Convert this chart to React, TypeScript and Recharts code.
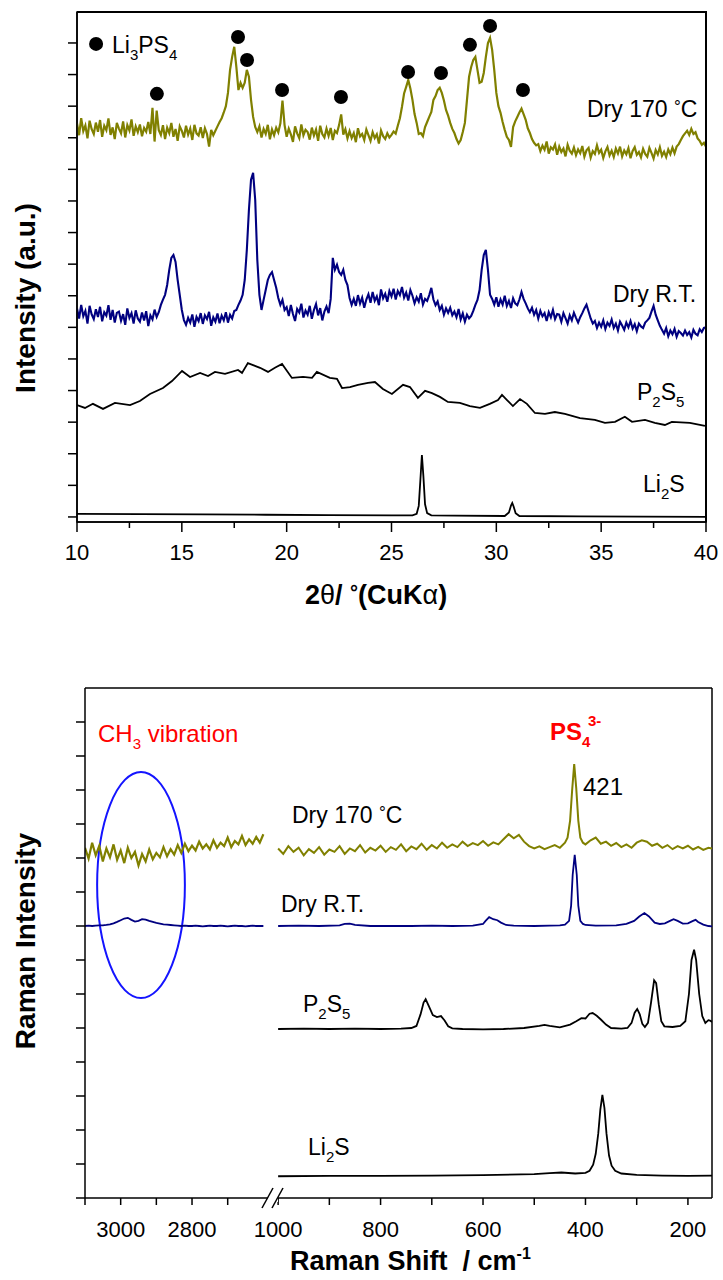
import React from "react";
import {
  ComposedChart,
  Line,
  XAxis,
  YAxis,
  ReferenceLine,
  ReferenceDot,
  ReferenceArea,
} from "recharts";

const FONT = '"Liberation Sans", Arial, Helvetica, sans-serif';
const OLIVE = "#808000";
const NAVY = "#000080";
const INK = "#000";

// ---------- XRD, 2θ step scans 10.0–40.0° (0.1° step) ----------
const xrdStart = 10;
const xrdStep = 0.1;

const dry170Xrd = [
  1245, 1208, 1262, 1221, 1239, 1198, 1254, 1227, 1212, 1248,
  1219, 1256, 1203, 1238, 1224, 1261, 1209, 1233, 1196, 1247,
  1229, 1214, 1252, 1201, 1240, 1223, 1258, 1206, 1236, 1218,
  1242, 1205, 1231, 1219, 1250, 1212, 1295, 1188, 1286, 1224,
  1209, 1240, 1196, 1232, 1215, 1247, 1203, 1228, 1190, 1236,
  1222, 1201, 1238, 1210, 1229, 1193, 1241, 1214, 1207, 1233,
  1199, 1230, 1212, 1172, 1225, 1208, 1222, 1236, 1250, 1262,
  1280, 1300, 1342, 1415, 1456, 1488, 1424, 1351, 1374, 1358,
  1374, 1415, 1393, 1320, 1266, 1234, 1218, 1236, 1201, 1228,
  1212, 1241, 1195, 1226, 1208, 1232, 1217, 1246, 1318, 1240,
  1203, 1229, 1211, 1187, 1236, 1214, 1199, 1242, 1208, 1225,
  1218, 1194, 1232, 1207, 1226, 1190, 1238, 1212, 1201, 1229,
  1206, 1231, 1193, 1222, 1215, 1240, 1274, 1210, 1227, 1198,
  1221, 1199, 1215, 1186, 1230, 1204, 1212, 1193, 1226, 1208,
  1190, 1218, 1199, 1211, 1182, 1223, 1205, 1196, 1214, 1201,
  1209, 1220, 1213, 1238, 1262, 1298, 1340, 1361, 1383, 1356,
  1320, 1275, 1247, 1212, 1215, 1205, 1234, 1250, 1266, 1282,
  1320, 1332, 1351, 1358, 1342, 1318, 1288, 1270, 1247, 1228,
  1215, 1196, 1182, 1193, 1218, 1247, 1320, 1393, 1424, 1446,
  1456, 1415, 1374, 1377, 1405, 1456, 1500, 1516, 1478, 1415,
  1342, 1300, 1279, 1250, 1225, 1203, 1193, 1171, 1234, 1252,
  1266, 1280, 1292, 1275, 1257, 1230, 1215, 1196, 1184, 1176,
  1180, 1158, 1175, 1162, 1188, 1150, 1170, 1163, 1179, 1146,
  1172, 1155, 1166, 1141, 1178, 1159, 1150, 1169, 1145, 1163,
  1151, 1174, 1140, 1160, 1168, 1137, 1158, 1149, 1176, 1152,
  1162, 1136, 1157, 1171, 1144, 1159, 1139, 1166, 1150, 1172,
  1141, 1160, 1148, 1167, 1135, 1158, 1170, 1146, 1155, 1138,
  1165, 1149, 1140, 1168, 1152, 1134, 1161, 1147, 1170, 1143,
  1156, 1139, 1163, 1148, 1169, 1151, 1172, 1180, 1193, 1205,
  1214, 1222, 1209, 1228, 1212, 1218, 1198, 1190, 1178, 1184,
  1172,
];

const dryRtXrd = [
  660, 628, 671, 635, 652, 612, 668, 641, 626, 657,
  633, 665, 619, 648, 637, 670, 624, 655, 615, 646,
  650, 621, 642, 608, 660, 630, 645, 612, 654, 628,
  618, 647, 622, 651, 604, 638, 625, 656, 633, 648,
  671, 688, 703, 734, 782, 820, 829, 807, 750, 703,
  655, 623, 608, 630, 615, 641, 602, 633, 620, 645,
  611, 638, 626, 649, 605, 632, 618, 644, 613, 637,
  622, 648, 615, 640, 628, 652, 655, 671, 685, 703,
  750, 845, 972, 1067, 1089, 1003, 813, 703, 655, 687,
  718, 750, 766, 775, 750, 725, 693, 671, 687, 655,
  664, 636, 671, 642, 620, 658, 647, 675, 631, 653,
  640, 668, 627, 655, 674, 638, 661, 622, 650, 666,
  645, 690, 820, 782, 798, 775, 766, 782, 750, 734,
  693, 671, 690, 668, 702, 675, 694, 662, 688, 705,
  678, 712, 684, 698, 670, 720, 692, 706, 681, 715,
  698, 722, 688, 715, 702, 728, 694, 710, 685, 718,
  700, 676, 695, 681, 708, 672, 690, 684, 702, 725,
  688, 670, 682, 655, 668, 640, 660, 646, 662, 638,
  650, 632, 658, 625, 644, 618, 640, 628, 636, 652,
  671, 687, 718, 782, 829, 845, 782, 703, 690, 672,
  695, 665, 688, 672, 700, 668, 684, 661, 692, 676,
  670, 688, 712, 690, 676, 660, 648, 662, 640, 655,
  628, 652, 635, 645, 620, 648, 632, 655, 626, 642,
  640, 618, 645, 629, 612, 638, 622, 646, 630, 615,
  632, 645, 660, 672, 650, 628, 612, 620, 598, 615,
  602, 622, 595, 615, 605, 625, 598, 612, 590, 618,
  606, 592, 615, 600, 620, 596, 610, 588, 612, 603,
  598, 615, 622, 630, 650, 668, 640, 622, 605, 592,
  580, 598, 572, 590, 578, 595, 570, 588, 582, 574,
  590, 576, 585, 568, 592, 580, 575, 594, 585, 598,
  600,
];

const p2s5Xrd: [number, number][] = [
  [10.0, 354], [10.38, 345], [10.76, 358], [11.24, 342], [11.81, 361], [12.53, 354],
  [13.0, 367], [13.48, 389], [14.1, 408], [14.53, 430], [15.01, 462], [15.39, 443],
  [15.87, 456], [16.25, 446], [16.58, 459], [17.06, 453], [17.68, 465], [17.87, 456],
  [18.15, 487], [18.73, 472], [19.11, 459], [19.44, 472], [19.78, 484], [20.25, 440],
  [20.78, 443], [21.21, 440], [21.44, 459], [22.06, 440], [22.4, 437], [22.64, 408],
  [23.02, 411], [23.4, 418], [23.88, 424], [24.21, 427], [24.59, 405], [25.02, 389],
  [25.55, 418], [25.88, 411], [26.26, 377], [26.6, 399], [26.93, 392], [27.31, 380],
  [27.69, 364], [28.26, 361], [28.74, 351], [29.22, 345], [29.69, 358], [30.08, 370],
  [30.27, 386], [30.51, 370], [30.79, 351], [31.13, 373], [31.46, 358], [31.84, 329],
  [32.32, 326], [32.79, 332], [33.27, 326], [33.99, 313], [34.7, 307], [35.18, 298],
  [35.66, 301], [36.13, 317], [36.47, 301], [37.09, 307], [37.56, 298], [38.04, 291],
  [38.37, 301], [39.23, 298], [39.95, 288],
];

const li2sXrd: [number, number][] = [
  [10, 10], [13, 9], [16, 8], [19, 7], [22, 6], [25, 5], [26.0, 5], [26.2, 10],
  [26.3, 35], [26.38, 120], [26.45, 196], [26.52, 130], [26.6, 40], [26.7, 12],
  [26.9, 5], [28, 4], [30.4, 3], [30.6, 14], [30.7, 36], [30.76, 44], [30.82, 34],
  [30.92, 12], [31.1, 3], [34, 2], [37, 1], [40, 0],
];

// Li3PS4 reflections marked above the Dry 170 °C pattern, then the key symbol
const li3ps4Peaks: [number, number][] = [
  [13.81, 1339], [17.68, 1519], [18.11, 1446], [19.78, 1351], [22.59, 1329],
  [25.79, 1408], [27.36, 1405], [28.74, 1494], [29.7, 1554], [31.27, 1351],
];
const li3ps4Key: [number, number] = [10.91, 1497];

const xrdXTicks = [10, 12.5, 15, 17.5, 20, 22.5, 25, 27.5, 30, 32.5, 35, 37.5, 40];
const xrdYTicks = [0, 100, 200, 300, 400, 500, 600, 700, 800, 900, 1000, 1100, 1200, 1300, 1400, 1500];

// ---------- Raman, shift axis broken between the C–H and low-frequency ranges ----------
const ramanHighStart = 3100;
const ramanHighStep = -10;

const dry170RamanHigh = [
  1030, 998, 1045, 1008, 1036, 990, 1028, 1002, 1040, 995,
  1022, 985, 1030, 1000, 1018, 978, 1012, 990, 1025, 996,
  1015, 1002, 1032, 1005, 1026, 1010, 1038, 1015, 1042, 1020,
  1036, 1022, 1048, 1028, 1040, 1025, 1052, 1030, 1045, 1035,
  1060, 1032, 1050, 1040, 1065, 1038, 1055, 1042, 1062, 1045, 1070,
];

const dryRtRamanHigh = [
  800, 801, 800, 801, 802, 802, 803, 805, 808, 812,
  817, 822, 824, 818, 813, 815, 820, 819, 815, 812,
  809, 807, 805, 804, 803, 802, 801, 800, 801, 800,
  800, 801, 800, 799, 800, 801, 800, 800, 801, 800,
  799, 800, 801, 800, 800, 799, 800, 801, 800, 800, 800,
];

const dry170RamanLow: [number, number][] = [
  [1000, 1028], [990, 1012], [980, 1035], [970, 1018], [960, 1030], [950, 1008], [940, 1026],
  [930, 1015], [920, 1032], [910, 1010], [900, 1025], [890, 1018], [880, 1035], [870, 1012],
  [860, 1028], [850, 1020], [840, 1038], [830, 1016], [820, 1030], [810, 1022], [800, 1036],
  [790, 1018], [780, 1032], [770, 1024], [760, 1040], [750, 1020], [740, 1034], [730, 1026],
  [720, 1042], [710, 1024], [700, 1038], [690, 1028], [680, 1045], [670, 1030], [660, 1040],
  [650, 1032], [640, 1048], [630, 1035], [620, 1044], [610, 1038], [600, 1050], [590, 1036],
  [580, 1046], [570, 1040], [560, 1055], [550, 1070], [540, 1058], [530, 1068], [520, 1048],
  [510, 1035], [500, 1028], [490, 1034], [480, 1026], [470, 1032], [460, 1038], [450, 1030],
  [440, 1045], [435, 1060], [430, 1110], [426, 1200], [422, 1276], [418, 1205], [414, 1110],
  [410, 1060], [405, 1045], [400, 1040], [390, 1052], [380, 1060], [370, 1042], [360, 1048],
  [350, 1036], [340, 1044], [330, 1032], [320, 1040], [310, 1030], [300, 1045], [290, 1052],
  [280, 1048], [270, 1036], [260, 1042], [250, 1030], [240, 1038], [230, 1026], [220, 1035],
  [210, 1028], [200, 1036], [190, 1025], [180, 1033], [170, 1024], [160, 1030], [153, 1028],
];

const dryRtRamanLow: [number, number][] = [
  [1000, 800], [960, 801], [920, 800], [880, 802], [870, 806], [860, 807], [850, 803],
  [820, 800], [780, 800], [740, 800], [700, 801], [660, 800], [620, 801], [600, 806],
  [595, 815], [588, 826], [580, 820], [572, 817], [565, 810], [555, 803], [540, 801],
  [500, 800], [470, 801], [450, 802], [440, 804], [432, 815], [428, 860], [425, 950],
  [421, 1009], [417, 950], [414, 860], [410, 815], [405, 806], [400, 803], [380, 801],
  [340, 802], [320, 806], [305, 815], [295, 828], [285, 838], [276, 828], [265, 810],
  [255, 806], [245, 808], [235, 815], [228, 820], [220, 815], [210, 807], [200, 808],
  [190, 815], [185, 818], [180, 812], [170, 804], [160, 800], [153, 799],
];

const p2s5Raman: [number, number][] = [
  [1000, 497], [950, 498], [900, 497], [850, 498], [800, 497], [760, 498], [740, 500],
  [730, 506], [722, 540], [716, 575], [712, 585], [706, 565], [698, 538], [690, 532],
  [682, 535], [675, 522], [668, 505], [660, 499], [640, 497], [600, 496], [560, 497],
  [520, 500], [490, 506], [480, 509], [470, 506], [450, 502], [430, 510], [418, 520],
  [408, 529], [400, 528], [392, 542], [386, 544], [378, 536], [370, 525], [360, 510],
  [350, 500], [330, 498], [318, 500], [310, 515], [304, 545], [299, 556], [294, 540],
  [289, 512], [284, 503], [278, 515], [272, 575], [266, 640], [262, 632], [257, 570],
  [252, 520], [246, 505], [230, 503], [215, 506], [205, 520], [198, 600], [193, 700],
  [188, 730], [184, 700], [178, 600], [172, 535], [166, 515], [160, 523], [157, 522],
  [153, 518],
];

const li2sRaman: [number, number][] = [
  [1000, 64], [900, 65], [800, 65], [700, 66], [600, 67], [500, 70], [470, 73], [447, 75],
  [420, 72], [400, 74], [392, 80], [385, 98], [380, 130], [375, 190], [371, 260], [367, 303],
  [363, 265], [359, 190], [354, 125], [349, 95], [342, 80], [330, 72], [300, 68], [250, 66],
  [200, 65], [153, 66],
];

const ramanHighTicks = [3100, 3000, 2900, 2800, 2700];
const ramanLowTicks = [1000, 900, 800, 700, 600, 500, 400, 300, 200];
const ramanYTicks = [0, 100, 200, 300, 400, 500, 600, 700, 800, 900, 1000, 1100, 1200, 1300, 1400];

const stepped = (vals: number[], start: number, step: number) =>
  vals.map((y, i) => ({ x: Math.round((start + i * step) * 100) / 100, y }));
const pairs = (pts: [number, number][]) => pts.map(([x, y]) => ({ x, y }));

// ---------- axis pieces ----------
const AXIS_W = 30; // room kept for the y axis
const AXIS_H = 50; // room kept for the x axis
const LINE = { stroke: INK, strokeWidth: 1.5 };

const axisBase = {
  axisLine: LINE,
  tickLine: false,
  tickSize: 0,
  tickMargin: 0,
  interval: 0 as const,
  allowDataOverflow: true,
};

const xTick =
  (isMajor: (v: number) => boolean, majorLen: number, minorLen: number, labelDy: number) =>
  (props: any) => {
    const { x, y, payload } = props;
    const v = payload.value as number;
    const major = isMajor(v);
    return (
      <g>
        <line x1={x} x2={x} y1={y} y2={y + (major ? majorLen : minorLen)} {...LINE} />
        {major && (
          <text x={x} y={y + labelDy} textAnchor="middle" fontSize={22} fontFamily={FONT} fill={INK}>
            {v}
          </text>
        )}
      </g>
    );
  };

const yTick = (props: any) => <line x1={props.x - 9} x2={props.x} y1={props.y} y2={props.y} {...LINE} />;

const ellipseShape = (props: any) => {
  const w = Math.abs(props.width);
  const h = Math.abs(props.height);
  const left = props.width < 0 ? props.x + props.width : props.x;
  const top = props.height < 0 ? props.y + props.height : props.y;
  return (
    <ellipse cx={left + w / 2} cy={top + h / 2} rx={w / 2} ry={h / 2} fill="none" stroke="#1414ff" strokeWidth={2} />
  );
};

// outline of the whole plot area, used as the panel frame
const frameShape = (props: any) => {
  const w = Math.abs(props.width);
  const h = Math.abs(props.height);
  const left = props.width < 0 ? props.x + props.width : props.x;
  const top = props.height < 0 ? props.y + props.height : props.y;
  return <rect x={left} y={top} width={w} height={h} fill="none" {...LINE} />;
};

const trace = (data: { x: number; y: number }[], color: string, width = 1.8) => (
  <Line
    data={data}
    dataKey="y"
    type="linear"
    stroke={color}
    strokeWidth={width}
    dot={false}
    activeDot={false}
    isAnimationActive={false}
  />
);

const frame = { ...LINE, ifOverflow: "visible" as const };

function XrdPanel() {
  return (
    <ComposedChart
      width={723}
      height={620}
      margin={{ top: 12, right: 17, bottom: 98 - AXIS_H, left: 77 - AXIS_W }}
    >
      <XAxis
        dataKey="x"
        type="number"
        domain={[10, 40]}
        ticks={xrdXTicks}
        height={AXIS_H}
        tick={xTick((v) => v % 5 === 0, 10, 6, 38)}
        {...axisBase}
      />
      <YAxis
        type="number"
        domain={[-16, 1598]}
        ticks={xrdYTicks}
        width={AXIS_W}
        tick={yTick}
        {...axisBase}
      />
      <ReferenceArea x1={10} x2={40} y1={-16} y2={1598} ifOverflow="visible" shape={frameShape} />
      {trace(pairs(li2sXrd), INK)}
      {trace(pairs(p2s5Xrd), INK)}
      {trace(stepped(dryRtXrd, xrdStart, xrdStep), NAVY, 2.1)}
      {trace(stepped(dry170Xrd, xrdStart, xrdStep), OLIVE, 2.2)}
      {[...li3ps4Peaks, li3ps4Key].map(([x, y]) => (
        <ReferenceDot key={x} x={x} y={y} r={7} fill={INK} stroke="none" />
      ))}
    </ComposedChart>
  );
}

function RamanHigh() {
  return (
    <ComposedChart
      width={273}
      height={640}
      margin={{ top: 48, right: 0, bottom: 82 - AXIS_H, left: 85 - AXIS_W }}
    >
      <XAxis
        dataKey="x"
        type="number"
        domain={[2573, 3100]}
        reversed
        ticks={ramanHighTicks}
        height={AXIS_H}
        tick={xTick((v) => v === 3000 || v === 2800, 7, 7, 39)}
        {...axisBase}
      />
      <YAxis
        type="number"
        domain={[0, 1500]}
        ticks={ramanYTicks}
        width={AXIS_W}
        tick={yTick}
        {...axisBase}
      />
      <ReferenceLine y={1500} {...frame} />
      <ReferenceArea x1={3066} x2={2820} y1={588} y2={1253} ifOverflow="visible" shape={ellipseShape} />
      {trace(stepped(dryRtRamanHigh, ramanHighStart, ramanHighStep), NAVY)}
      {trace(stepped(dry170RamanHigh, ramanHighStart, ramanHighStep), OLIVE, 2.2)}
    </ComposedChart>
  );
}

// the low-range chart starts 30px left of its plot so the "1000" label has room
function RamanLow() {
  return (
    <ComposedChart width={480} height={640} margin={{ top: 48, right: 11, bottom: 82 - AXIS_H, left: 30 }}>
      <XAxis
        dataKey="x"
        type="number"
        domain={[153, 1010]}
        reversed
        ticks={ramanLowTicks}
        height={AXIS_H}
        tick={xTick((v) => v % 200 === 0, 7, 7, 39)}
        {...axisBase}
      />
      <YAxis type="number" domain={[0, 1500]} hide allowDataOverflow />
      <ReferenceLine y={1500} {...frame} />
      <ReferenceLine x={153} {...frame} />
      {trace(pairs(li2sRaman), INK)}
      {trace(pairs(p2s5Raman), INK)}
      {trace(pairs(dryRtRamanLow), NAVY)}
      {trace(pairs(dry170RamanLow), OLIVE, 2)}
    </ComposedChart>
  );
}

// "Dry 170 °C" with the degree ring raised like a superscript
function DegLabel({ x, y }: { x: number; y: number }) {
  return (
    <text x={x} y={y} fontSize={23} style={{ whiteSpace: "pre" }}>
      Dry 170 <tspan fontSize={17} dy={-5}>°</tspan>
      <tspan dy={5}>C</tspan>
    </text>
  );
}

function Annotations() {
  const sub = { fontSize: 15, dy: 7 };
  return (
    <svg
      width={723}
      height={1280}
      style={{ position: "absolute", left: 0, top: 0, pointerEvents: "none" }}
      fontFamily={FONT}
      fill={INK}
    >
      {/* XRD labels */}
      <text x={112} y={53} fontSize={23}>
        Li<tspan {...sub}>3</tspan>
        <tspan dy={-7}>PS</tspan>
        <tspan {...sub}>4</tspan>
      </text>
      <DegLabel x={587} y={117} />
      <text x={613} y={302} fontSize={23}>Dry R.T.</text>
      <text x={637} y={400} fontSize={23}>
        P<tspan {...sub}>2</tspan>
        <tspan dy={-7}>S</tspan>
        <tspan {...sub}>5</tspan>
      </text>
      <text x={643} y={492} fontSize={23}>
        Li<tspan {...sub}>2</tspan>
        <tspan dy={-7}>S</tspan>
      </text>
      <text transform="translate(35,298) rotate(-90)" textAnchor="middle" fontSize={28} fontWeight="bold">
        Intensity (a.u.)
      </text>
      <text x={305} y={604} fontSize={27} fontWeight="bold" style={{ whiteSpace: "pre" }}>
        2<tspan fontWeight="normal">θ</tspan>/ <tspan fontSize={20} dy={-5}>°</tspan>
        <tspan dy={5}>(CuK</tspan>
        <tspan fontWeight="normal">α</tspan>)
      </text>

      {/* Raman labels */}
      <text x={98} y={742} fontSize={24} fill="#ff0000">
        CH<tspan {...sub}>3</tspan>
        <tspan dy={-7}> vibration</tspan>
      </text>
      <text x={550} y={740} fontSize={24} fontWeight="bold" fill="#ff0000">
        PS<tspan {...sub}>4</tspan>
      </text>
      <text x={588} y={726} fontSize={15} fontWeight="bold" fill="#ff0000">3-</text>
      <text x={583} y={795} fontSize={24}>421</text>
      <DegLabel x={292} y={823} />
      <text x={281} y={912} fontSize={23}>Dry R.T.</text>
      <text x={303} y={1012} fontSize={23}>
        P<tspan {...sub}>2</tspan>
        <tspan dy={-7}>S</tspan>
        <tspan {...sub}>5</tspan>
      </text>
      <text x={308} y={1155} fontSize={23}>
        Li<tspan {...sub}>2</tspan>
        <tspan dy={-7}>S</tspan>
      </text>
      <text transform="translate(35,941) rotate(-90)" textAnchor="middle" fontSize={28} fontWeight="bold">
        Raman Intensity
      </text>
      <text x={290} y={1270} fontSize={27} fontWeight="bold" style={{ whiteSpace: "pre" }}>
        Raman Shift  / cm<tspan fontSize={16} dy={-11}>-1</tspan>
      </text>

      {/* top and right edges of the XRD frame */}
      <path d="M77 12 H706 V522" fill="none" stroke={INK} strokeWidth={2} />

      {/* axis break */}
      <rect x={268} y={1194} width={10} height={8} fill="#fff" />
      <line x1={262} y1={1208} x2={273} y2={1188} {...LINE} />
      <line x1={272} y1={1208} x2={283} y2={1188} {...LINE} />
    </svg>
  );
}

export default function App() {
  return (
    <div
      style={{
        position: "absolute",
        left: 0,
        top: 0,
        width: 723,
        height: 1280,
        background: "#fff",
        fontFamily: FONT,
      }}
    >
      <div style={{ position: "absolute", left: 0, top: 0 }}>
        <XrdPanel />
      </div>
      <div style={{ position: "absolute", left: 0, top: 640 }}>
        <RamanHigh />
      </div>
      <div style={{ position: "absolute", left: 243, top: 640 }}>
        <RamanLow />
      </div>
      <Annotations />
    </div>
  );
}
